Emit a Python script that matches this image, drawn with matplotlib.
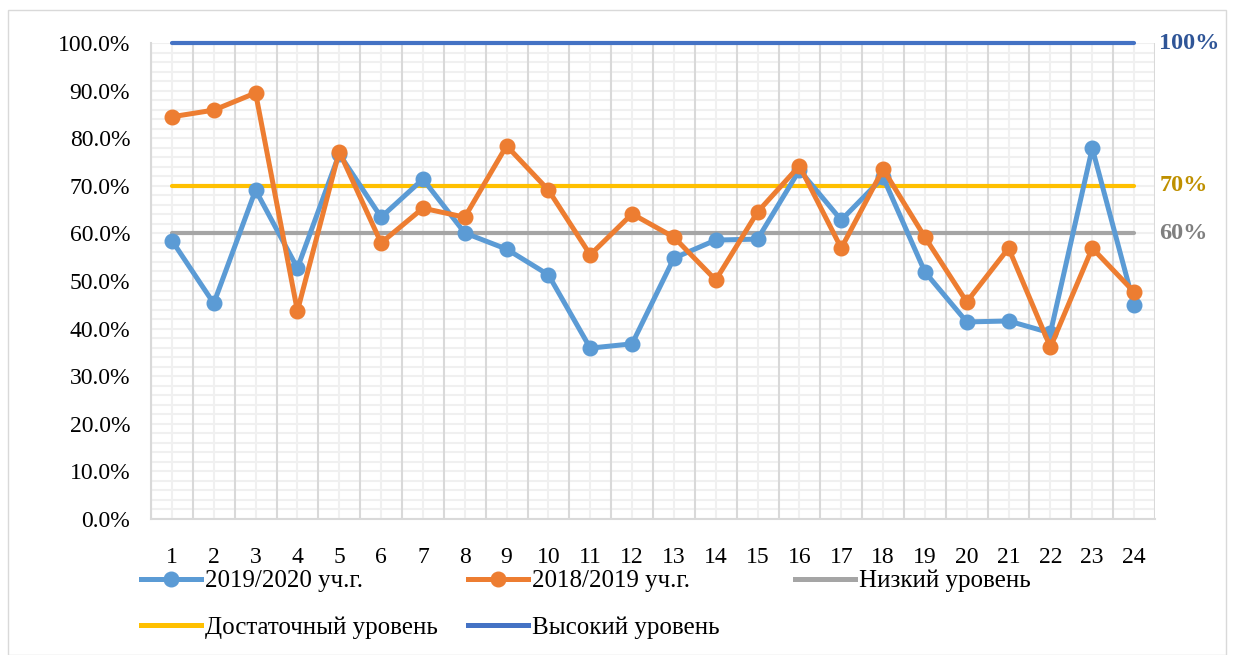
import matplotlib
matplotlib.use("Agg")
import matplotlib.pyplot as plt
from matplotlib.lines import Line2D
from matplotlib.patches import Rectangle
import numpy as np

# data
classes = list(range(1, 25))
y2019_2020 = [58.5, 45.3, 69.1, 52.7, 76.7, 63.4, 71.4, 60.1, 56.7, 51.3, 35.9, 36.8,
              54.8, 58.6, 58.8, 73.3, 62.8, 71.8, 51.9, 41.4, 41.6, 39.1, 77.9, 45.0]
y2018_2019 = [84.5, 85.9, 89.5, 43.7, 77.2, 58.0, 65.3, 63.4, 78.4, 69.1, 55.5, 64.1,
              59.2, 50.2, 64.5, 74.2, 56.9, 73.5, 59.2, 45.6, 56.9, 36.1, 56.9, 47.7]
low_level = 60
enough_level = 70
high_level = 100

labels = ["2019/2020 уч.г.", "2018/2019 уч.г.", "Низкий уровень",
          "Достаточный уровень", "Высокий уровень"]

c_blue = "#5B9BD5"
c_orange = "#ED7D31"
c_gray = "#A5A5A5"
c_yellow = "#FFC000"
c_dblue = "#4472C4"

plt.rcParams['font.family'] = ['Liberation Serif', 'DejaVu Serif']

fig = plt.figure(figsize=(12.34, 6.55), dpi=100)
ax = fig.add_axes([151/1234, 1-519/655, (1155-151)/1234, (519-43)/655])

x = np.array(classes)
# grid
for v in np.arange(0, 1.001, 0.02):
    ax.axhline(v, color="#F0F0F0", lw=1.5, zorder=0)
for v in x:
    ax.axvline(v, color="#F0F0F0", lw=1.5, zorder=0)
for v in np.arange(0.5, 25, 1):
    ax.axvline(v, color="#D9D9D9", lw=1.5, zorder=0.5)

lw_flat = 3.0
lw_ser = 3.6
ax.plot(x, [low_level/100]*len(x), color=c_gray, lw=lw_flat, solid_capstyle='round', zorder=2)
ax.plot(x, [enough_level/100]*len(x), color=c_yellow, lw=lw_flat, solid_capstyle='round', zorder=2)
ax.plot(x, [high_level/100]*len(x), color=c_dblue, lw=lw_flat, solid_capstyle='round', zorder=2, clip_on=False)
ax.plot(x, np.array(y2019_2020)/100, color=c_blue, lw=lw_ser, marker='o', ms=10.5, zorder=3)
ax.plot(x, np.array(y2018_2019)/100, color=c_orange, lw=lw_ser, marker='o', ms=10.5, zorder=4)

ax.set_xlim(0.5, 24.5)
ax.set_ylim(0, 1)
ax.set_xticks(x)
ax.set_xticklabels([str(c) for c in classes])
yt = np.arange(0, 1.001, 0.1)
ax.set_yticks(yt)
ax.set_yticklabels(["%.1f%%" % (v*100) for v in yt])
ax.tick_params(axis='both', length=0, labelsize=17, colors="#000000")
ax.tick_params(axis='x', pad=20)
ax.tick_params(axis='y', pad=15)
for s in ['top', 'right']:
    ax.spines[s].set_visible(False)
ax.spines['left'].set_color("#D9D9D9")
ax.spines['bottom'].set_color("#D9D9D9")
ax.spines['left'].set_linewidth(1.5)
ax.spines['bottom'].set_linewidth(1.5)

# right side labels
ax.text(24.6, high_level/100, "100%", color="#2F5597", fontsize=17.5, fontweight='bold', va='center')
ax.text(24.6, enough_level/100, "70%", color="#BF9000", fontsize=17.5, fontweight='bold', va='center')
ax.text(24.6, low_level/100, "60%", color="#7F7F7F", fontsize=17.5, fontweight='bold', va='center')

# legend, three columns placed by hand
h_blue = Line2D([], [], color=c_blue, lw=lw_ser, marker='o', ms=10.5)
h_orange = Line2D([], [], color=c_orange, lw=lw_ser, marker='o', ms=10.5)
h_gray = Line2D([], [], color=c_gray, lw=lw_ser)
h_yellow = Line2D([], [], color=c_yellow, lw=lw_ser)
h_dblue = Line2D([], [], color=c_dblue, lw=lw_ser)
cols = [([h_blue, h_yellow], [labels[0], labels[3]], 141),
        ([h_orange, h_dblue], [labels[1], labels[4]], 468),
        ([h_gray], [labels[2]], 795)]
for hs, ls, px in cols:
    leg = fig.legend(hs, ls, loc='upper left', bbox_to_anchor=(px/1234, 1-570/655),
                     frameon=False, fontsize=18, handlelength=2.4, handletextpad=0.15,
                     labelspacing=0.95, borderpad=0, borderaxespad=0)

fig.patches.append(Rectangle((8/1234, 0), 1-16/1234, 1-10/655, transform=fig.transFigure,
                             fill=False, ec="#D9D9D9", lw=1))

fig.savefig("out.png", dpi=100)
